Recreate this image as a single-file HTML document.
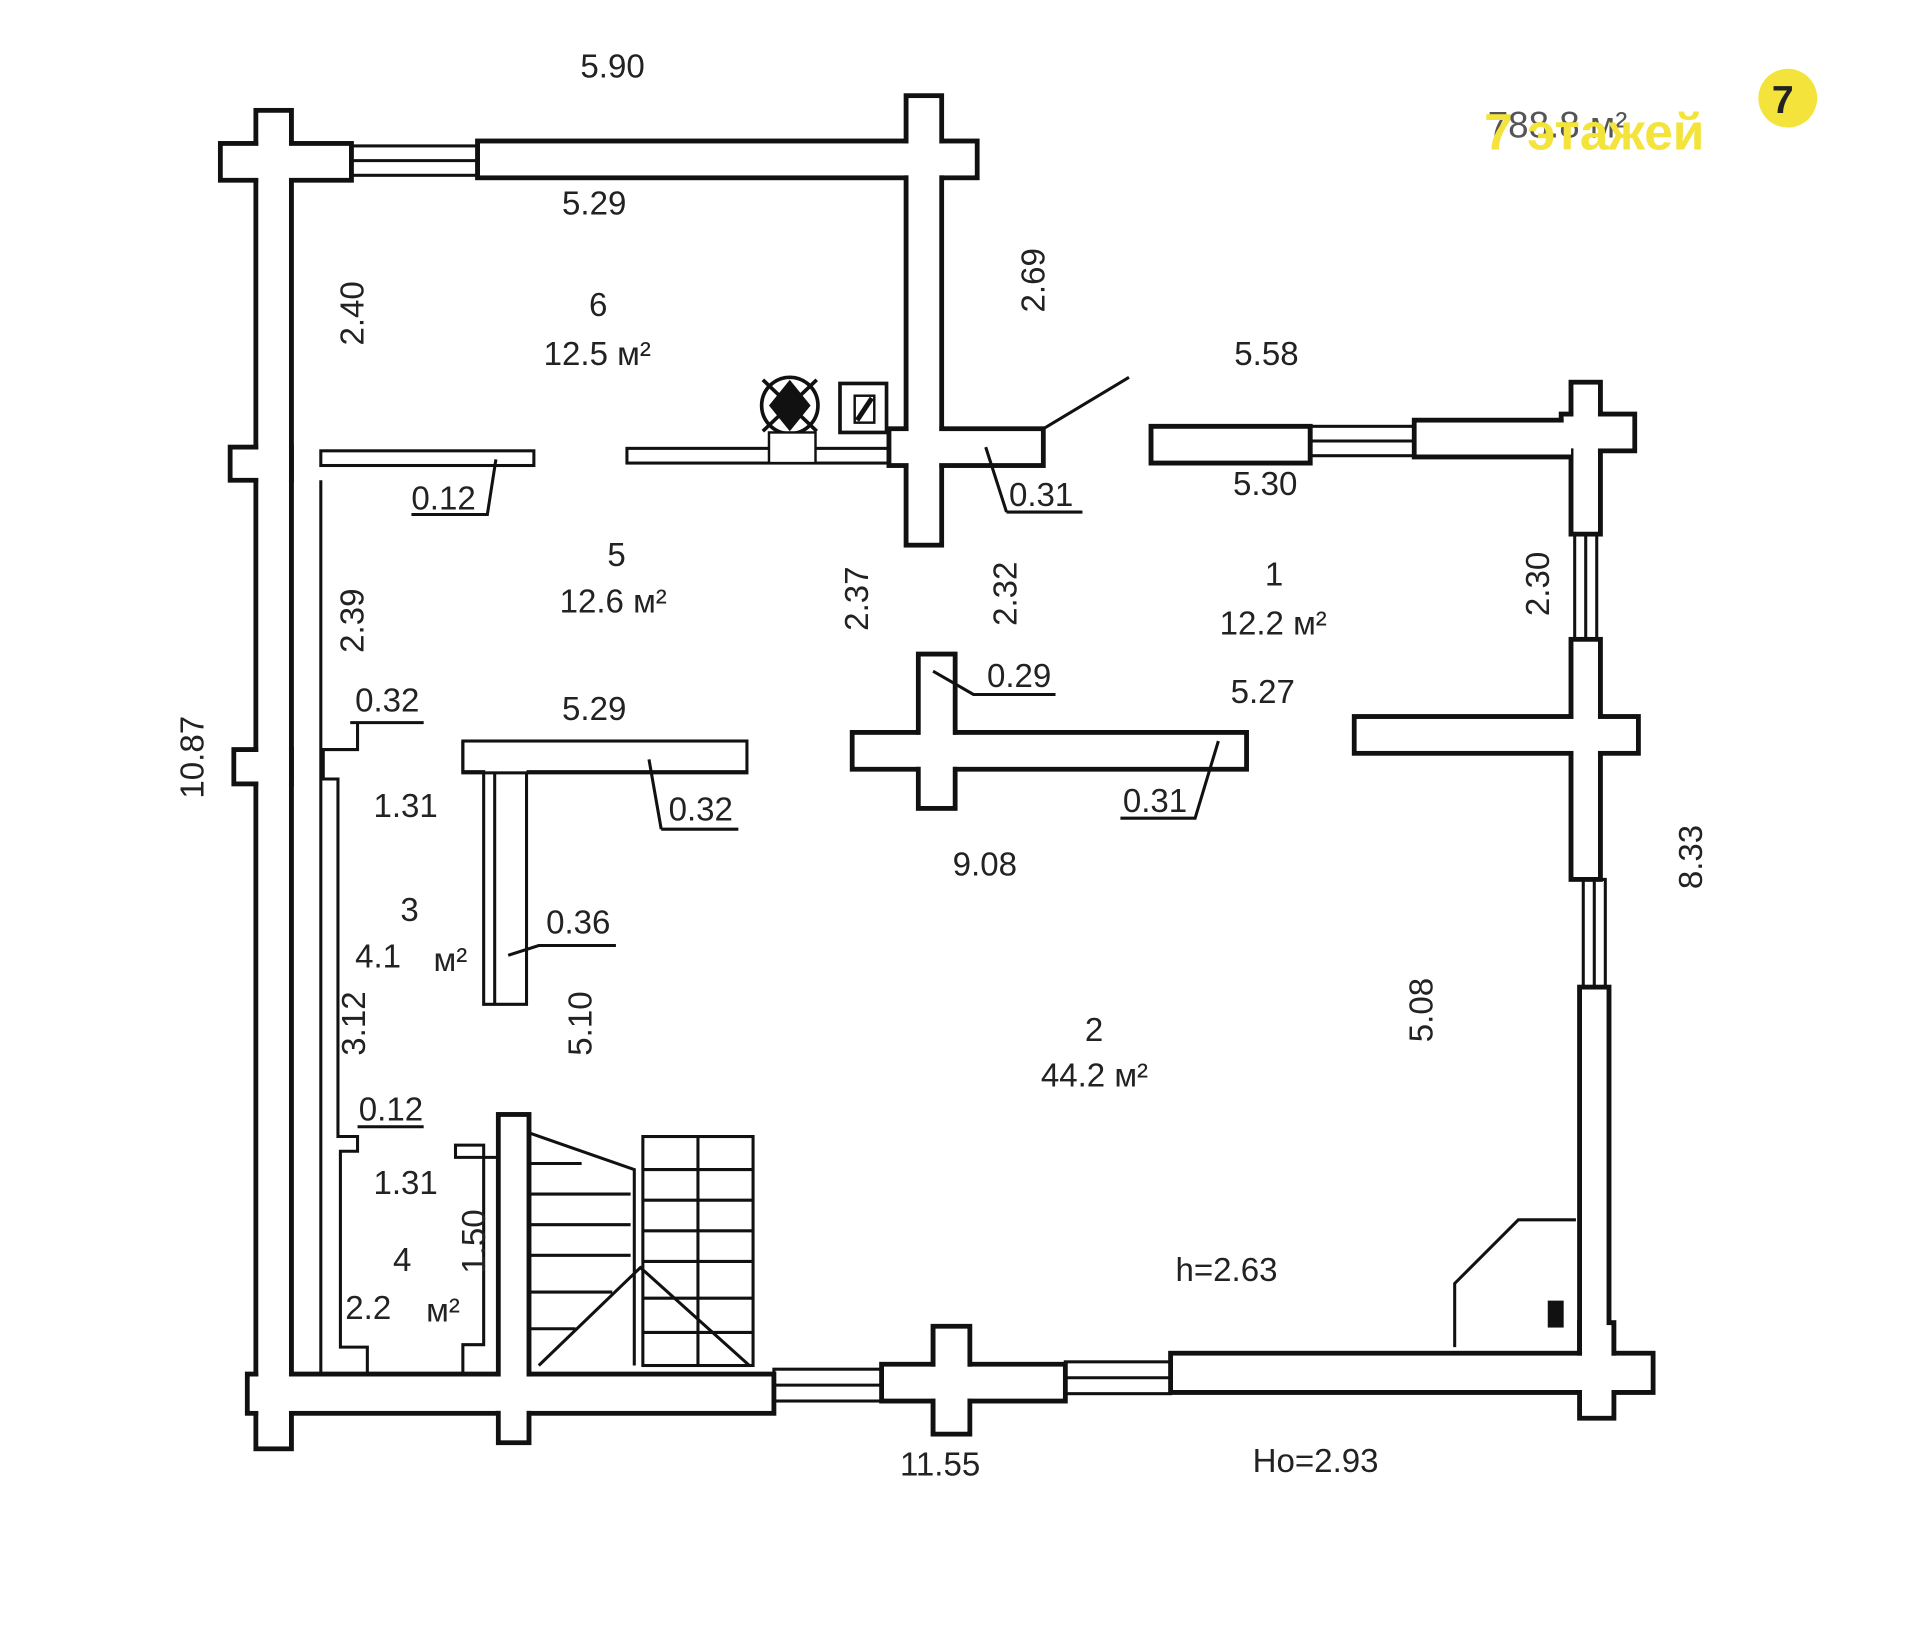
<!DOCTYPE html>
<html><head><meta charset="utf-8"><style>
html,body{margin:0;padding:0;background:#fff;width:1920px;height:1640px;overflow:hidden}
svg{display:block}
text{font-family:"Liberation Sans",sans-serif;font-size:27px;fill:#222}
.w{fill:#fff;stroke:#111;stroke-width:4}
.f{fill:#fff;stroke:none}
.l{stroke:#111;stroke-width:2.5;fill:none}
</style></head><body>
<svg width="1920" height="1640" viewBox="0 0 1568 1339" xmlns="http://www.w3.org/2000/svg">
<g class="w">
<rect x="209" y="90" width="29" height="1093"/>
<rect x="180" y="117" width="107" height="30"/>
<rect x="390" y="115" width="408" height="30"/>
<rect x="740" y="78" width="29" height="367"/>
<rect x="188" y="365" width="50" height="27"/>
<rect x="191" y="612" width="47" height="28"/>
<rect x="202" y="1122" width="430" height="32"/>
<rect x="407" y="910" width="25" height="268"/>
<rect x="720" y="1114" width="150" height="30"/>
<rect x="762" y="1083" width="30" height="88"/>
<rect x="956" y="1105" width="394" height="32"/>
<rect x="1290" y="1080" width="28" height="78"/>
<rect x="1283" y="312" width="24" height="124"/>
<rect x="1283" y="522" width="24" height="196"/>
<rect x="1290" y="806" width="24" height="300"/>
<rect x="1275" y="338" width="60" height="30"/>
<rect x="1155" y="343" width="130" height="30"/>
<rect x="940" y="348" width="130" height="30"/>
<rect x="1106" y="585" width="232" height="30"/>
<rect x="726" y="350" width="126" height="30"/>
<rect x="696" y="598" width="322" height="30"/>
<rect x="750" y="534" width="30" height="126"/>
</g>
<g class="f">
<rect x="211" y="92" width="25" height="1089"/>
<rect x="182" y="119" width="103" height="26"/>
<rect x="392" y="117" width="404" height="26"/>
<rect x="742" y="80" width="25" height="363"/>
<rect x="190" y="367" width="46" height="23"/>
<rect x="193" y="614" width="43" height="24"/>
<rect x="204" y="1124" width="426" height="28"/>
<rect x="409" y="912" width="21" height="264"/>
<rect x="722" y="1116" width="146" height="26"/>
<rect x="764" y="1085" width="26" height="84"/>
<rect x="958" y="1107" width="390" height="28"/>
<rect x="1292" y="1082" width="24" height="74"/>
<rect x="1277" y="340" width="56" height="26"/>
<rect x="1157" y="345" width="126" height="26"/>
<rect x="1108" y="587" width="228" height="26"/>
<rect x="728" y="352" width="122" height="26"/>
<rect x="698" y="600" width="318" height="26"/>
<rect x="752" y="536" width="26" height="122"/>
<rect x="1285" y="314" width="20" height="120"/>
<rect x="1285" y="524" width="20" height="192"/>
<rect x="1292" y="808" width="20" height="296"/>
</g>
<g class="l">
<rect x="287" y="119" width="103" height="24"/><line x1="287" y1="131" x2="390" y2="131"/>
<rect x="1070" y="348" width="85" height="24"/><line x1="1070" y1="360" x2="1155" y2="360"/>
<rect x="1286" y="436" width="18" height="86"/><line x1="1295" y1="436" x2="1295" y2="522"/>
<rect x="1293" y="718" width="18" height="88"/><line x1="1302" y1="718" x2="1302" y2="806"/>
<rect x="632" y="1118" width="88" height="26"/><line x1="632" y1="1131" x2="720" y2="1131"/>
<rect x="870" y="1112" width="86" height="26"/><line x1="870" y1="1125" x2="956" y2="1125"/>
<rect x="262" y="368" width="174" height="12"/>
<rect x="512" y="366" width="214" height="12"/>
<path d="M262 392 V1122 H300 V1100 H278 V940 H292 V928 H276 V636 H264 V612 H292 V590"/>
<path d="M378 1122 V1098 H395 V935 H372 V945 H407"/>
<rect x="378" y="605" width="232" height="26"/>
<path d="M378 605 V630 H395 V820 H430 V630"/>
<path d="M404 630 V820 M430 630 H610"/>
<path d="M432 925 L518 955 V1115 M440 1115 L523 1035 L612 1115 M432 950 H475 M432 975 H515 M432 1000 H515 M432 1025 H515 M432 1055 H500 M432 1085 H470"/>
<rect x="525" y="928" width="90" height="187"/>
<path d="M525 955 H615 M525 980 H615 M525 1005 H615 M525 1030 H615 M525 1060 H615 M525 1088 H615 M570 928 V1115"/>
<line x1="852" y1="350" x2="922" y2="308"/>
<path d="M1188 1100 V1048 L1240 996 H1287"/>
<path d="M336 420 H398 L405 375"/><path d="M822 418 H884 M822 418 L805 365"/>
<path d="M762 548 L795 567 H862"/><path d="M915 668 H976 L995 605"/>
<path d="M540 677 H603 M540 677 L530 620"/><path d="M415 780 L440 772 H503"/>
<path d="M286 590 H346"/><path d="M292 920 H346"/>
</g>
<circle cx="645" cy="331" r="23" fill="#fff" stroke="#111" stroke-width="3"/>
<path d="M623 310 L667 352 M667 310 L623 352" stroke="#111" stroke-width="3"/>
<path d="M645 310 L628 331 L645 352 L662 331Z" fill="#111"/>
<rect x="686" y="313" width="38" height="40" fill="#fff" stroke="#111" stroke-width="3"/>
<rect x="698" y="323" width="16" height="22" fill="#fff" stroke="#111" stroke-width="2"/>
<path d="M700 343 L712 325" stroke="#111" stroke-width="4"/>
<rect x="628" y="353" width="38" height="25" fill="#fff" stroke="#111" stroke-width="2"/>
<rect x="1264" y="1062" width="13" height="22" fill="#111"/>
<text x="474" y="63">5.90</text><text x="459" y="175">5.29</text>
<text x="481" y="258">6</text><text x="444" y="298">12.5 м²</text>
<text x="1008" y="298">5.58</text><text x="1007" y="404">5.30</text>
<text x="336" y="416">0.12</text><text x="824" y="413">0.31</text>
<text x="496" y="462">5</text><text x="457" y="500">12.6 м²</text>
<text x="1033" y="478">1</text><text x="996" y="518">12.2 м²</text>
<text x="806" y="561">0.29</text><text x="1005" y="574">5.27</text>
<text x="290" y="581">0.32</text><text x="459" y="588">5.29</text>
<text x="305" y="667">1.31</text><text x="546" y="670">0.32</text>
<text x="917" y="663">0.31</text><text x="778" y="715">9.08</text>
<text x="327" y="752">3</text><text x="290" y="790">4.1</text><text x="354" y="793">м²</text>
<text x="446" y="762">0.36</text>
<text x="886" y="850">2</text><text x="850" y="887">44.2 м²</text>
<text x="293" y="915">0.12</text><text x="305" y="975">1.31</text>
<text x="321" y="1038">4</text><text x="282" y="1077">2.2</text><text x="348" y="1079">м²</text>
<text x="960" y="1046">h=2.63</text>
<text x="735" y="1205">11.55</text><text x="1023" y="1202">Ho=2.93</text>
<g font-size="27">
<text transform="translate(297,282) rotate(-90)">2.40</text>
<text transform="translate(853,255) rotate(-90)">2.69</text>
<text transform="translate(297,533) rotate(-90)">2.39</text>
<text transform="translate(709,515) rotate(-90)">2.37</text>
<text transform="translate(830,511) rotate(-90)">2.32</text>
<text transform="translate(1265,503) rotate(-90)">2.30</text>
<text transform="translate(166,652) rotate(-90)">10.87</text>
<text transform="translate(1390,726) rotate(-90)">8.33</text>
<text transform="translate(298,862) rotate(-90)">3.12</text>
<text transform="translate(483,862) rotate(-90)">5.10</text>
<text transform="translate(1170,851) rotate(-90)">5.08</text>
<text transform="translate(396,1040) rotate(-90)">1.50</text>
</g>
<text x="1215" y="112" style="font-size:30px;fill:#555">788.8 м²</text>
<text x="1212" y="122" style="font-size:42px;font-weight:bold;fill:#f3e33a">7 этажей</text>
<circle cx="1460" cy="80" r="24" fill="#f3e33a"/>
<text x="1447" y="92" style="font-size:32px;font-weight:bold;fill:#222">7</text>
</svg>
</body></html>
